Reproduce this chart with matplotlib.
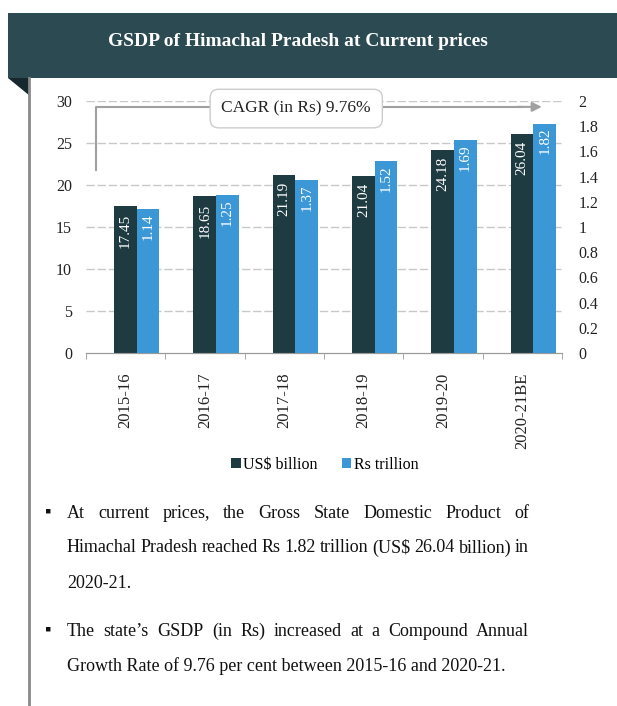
import numpy as np
import matplotlib
matplotlib.use("Agg")
import matplotlib.pyplot as plt
from matplotlib.patches import Patch, Rectangle, Polygon

plt.rcParams['font.family'] = ['Liberation Serif', 'DejaVu Serif']

# data
anios = ["2015-16", "2016-17", "2017-18", "2018-19", "2019-20", "2020-21BE"]
usdBillion = [17.45, 18.65, 21.19, 21.04, 24.18, 26.04]
rsTrillion = [1.14, 1.25, 1.37, 1.52, 1.69, 1.82]
ticksIzq = [0, 5, 10, 15, 20, 25, 30]
ticksDer = [0, 0.2, 0.4, 0.6, 0.8, 1, 1.2, 1.4, 1.6, 1.8, 2]
titulo = "GSDP of Himachal Pradesh at Current prices"
cagrTexto = "CAGR (in Rs) 9.76%"
parrafos = [
    ["At current prices, the Gross State Domestic Product of",
     "Himachal Pradesh reached Rs 1.82 trillion (US$ 26.04 billion) in",
     "2020-21."],
    ["The state\u2019s GSDP (in Rs) increased at a Compound Annual",
     "Growth Rate of 9.76 per cent between 2015-16 and 2020-21."],
]

COLOR_OSCURO = "#1f3b42"
COLOR_AZUL = "#3b97d6"
COLOR_HEADER = "#2b4a52"

W, H = 617, 706
fig = plt.figure(figsize=(W / 100, H / 100), dpi=100)
fig.patch.set_facecolor("white")

def fx(px):
    return px / W

def fy(py):
    return 1 - py / H

# header band + fold
fig.patches.append(Rectangle((fx(8), fy(78)), fx(609), 65 / H, transform=fig.transFigure,
                             facecolor=COLOR_HEADER, edgecolor="none"))
fig.patches.append(Polygon([(fx(8), fy(78)), (fx(30), fy(78)), (fx(30), fy(96))],
                           closed=True, transform=fig.transFigure, facecolor="#16282d", edgecolor="none"))
fig.add_artist(plt.Line2D([fx(29), fx(29)], [fy(78), fy(706)], transform=fig.transFigure,
                          color="#8a8a8a", lw=2))
fig.text(fx(298), fy(42), titulo, color="white", fontsize=14, fontweight="bold",
         ha="center", va="center")

# chart
ax = fig.add_axes([fx(86), fy(353), (562 - 86) / W, (353 - 101) / H])
ax2 = ax.twinx()
x = np.arange(len(anios))
anchoBarra = 0.285
xOscuro = x - 0.145 + anchoBarra / 2
xAzul = x + 0.14 + anchoBarra / 2
ax.bar(xOscuro, usdBillion, width=anchoBarra, color=COLOR_OSCURO, zorder=3)
ax2.bar(xAzul, rsTrillion, width=anchoBarra, color=COLOR_AZUL, zorder=3)

ax.set_xlim(-0.5, len(anios) - 0.5)
ax.set_ylim(0, 30)
ax2.set_ylim(0, 2)
ax.set_yticks(ticksIzq)
ax2.set_yticks(ticksDer)
ax2.set_yticklabels(["%g" % t for t in ticksDer])
for t in ticksIzq:
    if t > 0:
        ax.axhline(t, color="#c8c8c8", lw=1, ls=(0, (6, 2)), zorder=1)

for a in (ax, ax2):
    for s in ("top", "left", "right"):
        a.spines[s].set_visible(False)
    a.spines["bottom"].set_color("#9a9a9a")
    a.tick_params(axis="y", length=0, labelsize=11.5, colors="#222222")
ax.tick_params(axis="y", pad=10)
ax2.tick_params(axis="y", pad=12)
ax.set_xticks(x)
ax.set_xticklabels(anios, rotation=90, fontsize=12, color="#222222")
ax.tick_params(axis="x", which="major", length=0, pad=14)
ax.set_xticks(np.arange(-0.5, len(anios)), minor=True)
ax.tick_params(axis="x", which="minor", length=4, color="#9a9a9a", direction="out")

for xi, v in zip(xOscuro, usdBillion):
    ax.annotate("%.2f" % v, (xi, v), xytext=(0, -5), textcoords="offset points",
                rotation=90, ha="center", va="top", color="white", fontsize=11, zorder=4)
for xi, v in zip(xAzul, rsTrillion):
    ax2.annotate("%.2f" % v, (xi, v), xytext=(0, -3), textcoords="offset points",
                 rotation=90, ha="center", va="top", color="white", fontsize=11, zorder=4)

# CAGR arrow
ax.plot([-0.37, -0.37, 5.0], [21.8, 29.3, 29.3], color="#a0a0a0", lw=1.5, zorder=2, clip_on=False)
ax.annotate("", xy=(5.28, 29.3), xytext=(4.9, 29.3),
            arrowprops=dict(arrowstyle="-|>", color="#a0a0a0", lw=1.5, mutation_scale=14),
            zorder=2, annotation_clip=False)
ax.text(2.15, 29.1, cagrTexto, ha="center", va="center", fontsize=12.5, color="#222222", zorder=5,
        bbox=dict(boxstyle="round,pad=0.65,rounding_size=0.5", fc="white", ec="#cccccc", lw=1))

# legend
manijas = [Patch(facecolor=COLOR_OSCURO), Patch(facecolor=COLOR_AZUL)]
fig.legend(manijas, ["US$ billion", "Rs trillion"], loc="center", bbox_to_anchor=(fx(325), fy(465)),
           ncol=2, frameon=False, fontsize=11.5, handlelength=0.6, handleheight=0.6,
           handletextpad=0.15, columnspacing=1.5)

# bullet text (justified)
renderer = fig.canvas.get_renderer()
TAM = 13
X0, X1 = 67, 529
lineasY = [[513, 548, 583], [631, 666]]
for parrafo, ys in zip(parrafos, lineasY):
    fig.text(fx(48), fy(ys[0] - 1), "\u25aa", fontsize=13, ha="center", va="center", color="#111111")
    for i, (linea, yy) in enumerate(zip(parrafo, ys)):
        ultima = i == len(parrafo) - 1
        if ultima:
            fig.text(fx(X0), fy(yy), linea, fontsize=TAM, ha="left", va="center", color="#111111")
            continue
        palabras = linea.split(" ")
        textos = [fig.text(0, fy(yy), p, fontsize=TAM, ha="left", va="center", color="#111111")
                  for p in palabras]
        anchos = [t.get_window_extent(renderer).width for t in textos]
        hueco = (X1 - X0 - sum(anchos)) / (len(palabras) - 1)
        pos = X0
        for t, w in zip(textos, anchos):
            t.set_x(fx(pos))
            pos += w + hueco

fig.savefig("out.png", dpi=100)
